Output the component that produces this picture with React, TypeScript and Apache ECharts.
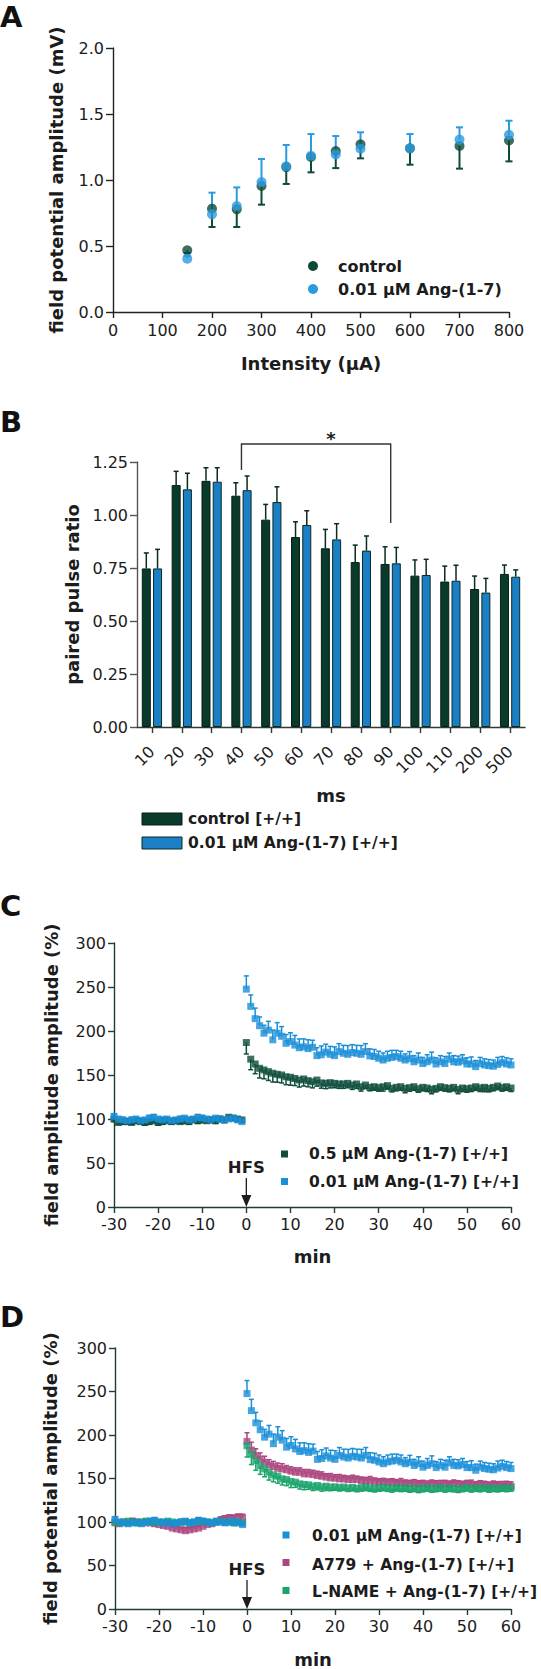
import React, { useEffect, useRef } from 'react';
import * as echarts from 'echarts';

const FONT = '"DejaVu Sans", "Liberation Sans", Arial, sans-serif';
const INK = '#1c1c1c';

// ---------- Panel A ----------
const intensity = [150, 200, 250, 300, 350, 400, 450, 500, 600, 700, 800];
const ampControl = [0.467, 0.783, 0.778, 0.955, 1.098, 1.174, 1.22, 1.27, 1.24, 1.258, 1.3];
const ampControlErr = [0.02, 0.139, 0.134, 0.142, 0.128, 0.116, 0.13, 0.106, 0.124, 0.172, 0.159];
const ampAng = [0.404, 0.74, 0.803, 0.985, 1.104, 1.184, 1.194, 1.237, 1.24, 1.306, 1.343];
const ampAngErr = [0.02, 0.164, 0.141, 0.174, 0.161, 0.164, 0.139, 0.124, 0.108, 0.093, 0.106];

// ---------- Panel B ----------
const intervalsMs = ['10', '20', '30', '40', '50', '60', '70', '80', '90', '100', '110', '200', '500'];
const ppControl = [0.748, 1.141, 1.161, 1.091, 0.978, 0.896, 0.843, 0.778, 0.769, 0.714, 0.686, 0.651, 0.722];
const ppControlErr = [0.073, 0.065, 0.062, 0.061, 0.072, 0.072, 0.089, 0.08, 0.081, 0.074, 0.073, 0.061, 0.042];
const ppAng = [0.748, 1.121, 1.157, 1.117, 1.061, 0.953, 0.885, 0.832, 0.772, 0.717, 0.69, 0.634, 0.709];
const ppAngErr = [0.09, 0.076, 0.066, 0.067, 0.072, 0.067, 0.074, 0.069, 0.075, 0.074, 0.073, 0.067, 0.032];

// ---------- Panels C & D (time, min) ----------
const baselineMin = [-30, -29, -28, -27, -26, -25, -24, -23, -22, -21, -20, -19, -18, -17, -16, -15, -14, -13, -12, -11, -10, -9, -8, -7, -6, -5, -4, -3, -2, -1];
const postMin = [0, 1, 2, 3, 4, 5, 6, 7, 8, 9, 10, 11, 12, 13, 14, 15, 16, 17, 18, 19, 20, 21, 22, 23, 24, 25, 26, 27, 28, 29, 30, 31, 32, 33, 34, 35, 36, 37, 38, 39, 40, 41, 42, 43, 44, 45, 46, 47, 48, 49, 50, 51, 52, 53, 54, 55, 56, 57, 58, 59, 60];

// 0.01 µM Ang-(1-7)
const angLowBase = [103, 100, 99, 98, 99, 100, 98, 99, 101, 102, 100, 99, 100, 98, 99, 100, 101, 99, 100, 102, 101, 100, 99, 101, 100, 99, 100, 101, 99, 97];
const angLowPost = [247.6, 228, 214, 206, 197.5, 201, 190, 197.5, 194, 186, 188, 184, 181, 182, 180, 181.5, 172, 173, 176, 173.5, 172, 176.6, 174.7, 173.5, 175.5, 174.7, 173.5, 176.6, 171.7, 171, 169, 167, 169, 170, 171, 169, 167, 168.6, 165, 167, 163, 165, 167, 162.5, 165, 163, 168, 165, 164.5, 166, 162.5, 162.5, 159.5, 163, 161.4, 160.6, 160, 162, 164, 162.5, 161.4];
const angLowErrBase = [3, 2, 3, 2, 3, 2, 3, 2, 3, 3, 2, 3, 2, 3, 2, 3, 2, 3, 2, 3, 3, 2, 3, 2, 3, 2, 3, 2, 3, 3];
const angLowErrPost = [15, 13, 12, 10, 9, 10, 11, 12, 11, 10, 10, 11, 10, 9, 10, 8, 9, 10, 9, 9, 10, 9, 9, 10, 9, 9, 10, 9, 8, 8, 8, 8, 8, 8, 7, 8, 7, 8, 7, 8, 7, 8, 9, 7, 7, 8, 7, 7, 7, 7, 7, 8, 7, 7, 7, 7, 7, 8, 7, 7, 7];

// 0.5 µM Ang-(1-7)
const angHighBase = [100, 96, 97, 97, 96, 98, 97, 96, 97, 98, 96, 97, 98, 97, 98, 97, 98, 97, 99, 98, 99, 98, 99, 98, 100, 99, 102, 101, 100, 99];
const angHighPost = [186.9, 168, 162.5, 157.6, 155.7, 153.8, 152, 150.8, 150, 148, 147.4, 146, 144.3, 145.5, 143.6, 142.4, 144.3, 141, 140.5, 141.3, 140.5, 139.8, 139.8, 140.5, 138.6, 139.8, 136.7, 138.6, 136, 136.7, 135.6, 136.7, 137.9, 134.8, 136, 136.7, 134.8, 135.6, 136.7, 134.4, 136, 135.2, 133.7, 134.8, 136.7, 135.6, 134.8, 136, 133.7, 135.2, 134.4, 135.2, 136.7, 135.2, 136, 134.8, 136, 137.5, 135.6, 136.7, 135.2];
const angHighErrBase = [3, 2, 3, 3, 2, 3, 2, 3, 3, 2, 3, 3, 2, 3, 3, 2, 3, 3, 2, 3, 3, 2, 3, 3, 2, 3, 3, 2, 3, 3];
const angHighErrPost = [13, 12, 11, 11, 10, 10, 10, 9, 9, 9, 9, 8, 8, 8, 7, 7, 7, 6, 6, 6, 5, 5, 5, 5, 5, 5, 5, 4, 4, 4, 4, 5, 4, 4, 4, 4, 5, 4, 4, 4, 4, 4, 5, 4, 4, 4, 4, 4, 5, 4, 4, 4, 4, 4, 5, 4, 4, 4, 4, 4, 4];

// A779 + Ang-(1-7)
const a779Base = [99, 98, 100, 99, 101, 100, 99, 100, 99, 98, 97, 96, 95, 93, 92, 91, 90, 91, 92, 93, 95, 97, 98, 100, 102, 104, 105, 104, 106, 105];
const a779Post = [192.6, 182.7, 176.2, 172.4, 168.6, 165.6, 163.7, 161.8, 161, 159.9, 158.4, 157.2, 157.2, 155.3, 155.3, 154.5, 153.4, 152.6, 151.5, 150.7, 150.4, 149.6, 149.6, 148.8, 148.8, 148.8, 147.7, 147.3, 147.3, 146.6, 145.8, 146.2, 145.4, 145.8, 144.7, 145, 144.3, 143.9, 144.7, 143.5, 143.9, 143.1, 144.3, 143.5, 142.8, 143.9, 143.1, 144.3, 143.5, 142.8, 143.9, 143.1, 142.4, 143.5, 142.8, 142, 143.1, 142.4, 141.6, 142.8, 141.2];
const a779ErrBase = [3, 3, 2, 3, 3, 2, 3, 3, 2, 3, 3, 3, 3, 4, 3, 3, 4, 3, 3, 3, 3, 3, 3, 3, 4, 3, 3, 4, 3, 4];
const a779ErrPost = [10, 9, 8, 7, 7, 6, 6, 6, 6, 5, 5, 5, 5, 5, 5, 5, 5, 5, 4, 5, 4, 5, 4, 4, 5, 4, 4, 4, 5, 4, 4, 4, 4, 4, 4, 5, 4, 4, 4, 4, 4, 4, 4, 4, 5, 4, 4, 4, 4, 4, 4, 5, 4, 4, 4, 4, 4, 4, 5, 4, 5];

// L-NAME + Ang-(1-7)
const lnameBase = [100, 99, 100, 101, 100, 99, 100, 101, 100, 99, 100, 100, 101, 100, 99, 100, 100, 99, 100, 101, 100, 100, 99, 100, 101, 100, 100, 99, 100, 99];
const lnamePost = [187.7, 178, 170.5, 164.8, 161, 157.2, 154.2, 152.6, 149.6, 148.8, 146.6, 145.8, 143.9, 143.1, 142.7, 141.2, 142, 140.5, 141.2, 140, 140.5, 139.6, 140.2, 139.1, 139.8, 138.7, 139.5, 140.1, 139.2, 138.5, 139.4, 140, 139.1, 138.4, 139.6, 138.9, 139.3, 138.2, 139, 137.8, 138.6, 139.4, 138.1, 138.8, 139.5, 138.3, 139.1, 138.6, 137.9, 138.8, 139.6, 138.4, 139.2, 138.7, 139.5, 138.2, 139, 138.5, 139.3, 138.8, 139.4];
const lnameErrBase = [2, 3, 2, 3, 2, 3, 2, 3, 2, 3, 2, 3, 2, 3, 2, 3, 2, 3, 2, 3, 2, 3, 2, 3, 2, 3, 2, 3, 2, 3];
const lnameErrPost = [13, 12, 11, 10, 9, 9, 8, 8, 7, 7, 7, 6, 6, 6, 5, 5, 5, 5, 5, 4, 4, 4, 4, 4, 4, 4, 4, 4, 4, 4, 4, 4, 4, 4, 4, 4, 4, 4, 4, 4, 4, 4, 4, 4, 4, 4, 4, 4, 4, 4, 4, 4, 4, 4, 4, 4, 4, 4, 4, 4, 4];

// ---------- colours ----------
const A_DARK = '#0d4a3a';
const A_BLUE = '#2a9be0';
const B_DARK = '#0a3a2c';
const B_BLUE = '#1b7fc6';
const C_DARK = '#0f4d3c';
const C_BLUE = '#1a8fd8';
const D_PINK = '#ad4680';
const D_GREEN = '#1aa36a';

const BAR_W = 9;
const BAR_GAP_PCT = 25;
const BAR_OFF = (BAR_W * 2 + (BAR_W * BAR_GAP_PCT) / 100) / 2 - BAR_W / 2;

function triplets(xs: number[], ys: number[], es: number[]) {
  return xs.map((x, i) => [x, ys[i], es[i]]);
}

function errRender(dir: number, color: string, cap: number, lw: number, dx = 0) {
  return (params: any, api: any) => {
    const x = api.value(0);
    const y = api.value(1);
    const e = api.value(2);
    if (!e) return null;
    const p0 = api.coord([x, y]);
    const p1 = api.coord([x, y + dir * e]);
    const px = p0[0] + dx;
    return {
      type: 'group',
      children: [
        { type: 'line', shape: { x1: px, y1: p0[1], x2: px, y2: p1[1] }, style: { stroke: color, lineWidth: lw } },
        { type: 'line', shape: { x1: px - cap, y1: p1[1], x2: px + cap, y2: p1[1] }, style: { stroke: color, lineWidth: lw } },
      ],
    };
  };
}

function hfsRender(params: any, api: any) {
  const p = api.coord([api.value(0), api.value(1)]);
  return {
    type: 'group',
    children: [
      {
        type: 'text',
        style: {
          text: 'HFS', x: p[0], y: p[1] - 40, fill: INK, font: `bold 16.5px ${FONT}`,
          textAlign: 'center', textVerticalAlign: 'middle', align: 'center', verticalAlign: 'middle',
        },
      },
      { type: 'line', shape: { x1: p[0], y1: p[1] - 29, x2: p[0], y2: p[1] - 10 }, style: { stroke: INK, lineWidth: 1.3 } },
      { type: 'polygon', shape: { points: [[p[0] - 5, p[1] - 12], [p[0] + 5, p[1] - 12], [p[0], p[1]]] }, style: { fill: INK } },
    ],
  };
}

function bracketRender(params: any, api: any) {
  const i0 = api.value(0);
  const i1 = api.value(1);
  const top = api.value(2);
  const a = api.coord([i0, top]);
  const b = api.coord([i1, top]);
  const la = api.coord([i0, api.value(3)]);
  const rb = api.coord([i1, api.value(4)]);
  const s = api.coord([(i0 + i1) / 2, api.value(5)]);
  return {
    type: 'group',
    children: [
      { type: 'polyline', shape: { points: [la, a, b, rb] }, style: { stroke: '#333', lineWidth: 1.4, fill: 'none' } },
      {
        type: 'text',
        style: {
          text: '*', x: s[0], y: s[1], fill: INK, font: `bold 18px ${FONT}`,
          textAlign: 'center', textVerticalAlign: 'middle', align: 'center', verticalAlign: 'middle',
        },
      },
    ],
  };
}

const tickLabel = { fontFamily: FONT, fontSize: 16, color: INK };
const nameStyle = { fontFamily: FONT, fontSize: 18, fontWeight: 'bold' as const, color: INK };

function valueAxis(opts: any) {
  return {
    type: 'value',
    splitLine: { show: false },
    axisLine: { show: true, onZero: false, lineStyle: { color: opts.lineColor || '#222', width: 1.4 } },
    axisTick: { show: true, length: opts.tickLen || 6, lineStyle: { color: opts.lineColor || '#222', width: 1.4 } },
    axisLabel: { ...tickLabel, margin: opts.margin || 8, formatter: opts.formatter },
    nameLocation: 'middle',
    nameTextStyle: nameStyle,
    ...opts.extra,
  };
}

function legendText(text: string, x: number, y: number, size = 15.5) {
  return {
    type: 'text', x, y,
    style: {
      text, fill: INK, font: `bold ${size}px ${FONT}`,
      textAlign: 'left', textVerticalAlign: 'middle', align: 'left', verticalAlign: 'middle',
    },
  };
}

function panelLetter(text: string, y: number) {
  return {
    type: 'text', x: 0, y,
    style: {
      text, fill: '#111', font: `bold 29px ${FONT}`,
      textAlign: 'left', textVerticalAlign: 'middle', align: 'left', verticalAlign: 'middle',
    },
  };
}

const allMin = [...baselineMin, ...postMin];
const angLow = [...angLowBase, ...angLowPost];
const angLowErr = [...angLowErrBase, ...angLowErrPost];
const angHigh = [...angHighBase, ...angHighPost];
const angHighErr = [...angHighErrBase, ...angHighErrPost];
const a779 = [...a779Base, ...a779Post];
const a779Err = [...a779ErrBase, ...a779ErrPost];
const lname = [...lnameBase, ...lnamePost];
const lnameErr = [...lnameErrBase, ...lnameErrPost];

function buildOption() {
  const cdLine = '#1e3d33';
  const SQ = 7;
  return {
    animation: false,
    backgroundColor: '#ffffff',
    grid: [
      { left: 113, top: 48, width: 396, height: 264 },
      { left: 137, top: 462, width: 388, height: 265 },
      { left: 114, top: 943, width: 397, height: 264 },
      { left: 115, top: 1348, width: 396, height: 263 },
    ],
    xAxis: [
      valueAxis({
        margin: 10, tickLen: 6,
        extra: { gridIndex: 0, min: 0, max: 800, interval: 100, name: 'Intensity (µA)', nameGap: 42 },
      }),
      {
        type: 'category', gridIndex: 1, data: intervalsMs, boundaryGap: true,
        axisLine: { show: true, lineStyle: { color: '#2e3b36', width: 1.4 } },
        axisTick: { show: true, alignWithLabel: true, length: 6, lineStyle: { color: '#2e3b36', width: 1.4 } },
        axisLabel: { ...tickLabel, rotate: 45, margin: 22, interval: 0 },
        name: 'ms', nameLocation: 'middle', nameGap: 59, nameTextStyle: nameStyle,
      },
      valueAxis({
        margin: 9, tickLen: 6, lineColor: cdLine,
        extra: { gridIndex: 2, min: -30, max: 60, interval: 10, name: 'min', nameGap: 40 },
      }),
      valueAxis({
        margin: 9, tickLen: 6, lineColor: cdLine,
        extra: { gridIndex: 3, min: -30, max: 60, interval: 10, name: 'min', nameGap: 41 },
      }),
    ],
    yAxis: [
      valueAxis({
        margin: 9, tickLen: 7, formatter: (v: number) => v.toFixed(1),
        extra: { gridIndex: 0, min: 0, max: 2, interval: 0.5, name: 'field potential amplitude (mV)', nameGap: 48 },
      }),
      valueAxis({
        margin: 9, tickLen: 7, lineColor: '#555', formatter: (v: number) => v.toFixed(2),
        extra: { gridIndex: 1, min: 0, max: 1.25, interval: 0.25, name: 'paired pulse ratio', nameGap: 54 },
      }),
      valueAxis({
        margin: 8, tickLen: 6, lineColor: cdLine,
        extra: { gridIndex: 2, min: 0, max: 300, interval: 50, name: 'field amplitude amplitude (%)', nameGap: 54 },
      }),
      valueAxis({
        margin: 8, tickLen: 6, lineColor: cdLine,
        extra: { gridIndex: 3, min: 0, max: 300, interval: 50, name: 'field potential amplitude (%)', nameGap: 56 },
      }),
    ],
    series: [
      // ---- A ----
      {
        type: 'custom', name: 'control err', xAxisIndex: 0, yAxisIndex: 0,
        renderItem: errRender(-1, A_DARK, 3.5, 2), data: triplets(intensity, ampControl, ampControlErr),
      },
      {
        type: 'custom', name: 'ang err', xAxisIndex: 0, yAxisIndex: 0,
        renderItem: errRender(1, A_BLUE, 3.5, 2), data: triplets(intensity, ampAng, ampAngErr),
      },
      {
        type: 'scatter', name: 'control', xAxisIndex: 0, yAxisIndex: 0, symbol: 'circle', symbolSize: 10,
        itemStyle: { color: A_DARK }, data: intensity.map((x, i) => [x, ampControl[i]]),
      },
      {
        type: 'scatter', name: '0.01 µM Ang-(1-7)', xAxisIndex: 0, yAxisIndex: 0, symbol: 'circle', symbolSize: 10,
        itemStyle: { color: A_BLUE }, data: intensity.map((x, i) => [x, ampAng[i]]),
      },
      // ---- B ----
      {
        type: 'bar', name: 'control [+/+]', xAxisIndex: 1, yAxisIndex: 1, barWidth: BAR_W, barGap: BAR_GAP_PCT + '%',
        itemStyle: { color: B_DARK, borderColor: '#051f17', borderWidth: 1 }, data: ppControl,
      },
      {
        type: 'bar', name: '0.01 µM Ang-(1-7) [+/+]', xAxisIndex: 1, yAxisIndex: 1, barWidth: BAR_W, barGap: BAR_GAP_PCT + '%',
        itemStyle: { color: B_BLUE, borderColor: '#0a2a22', borderWidth: 1 }, data: ppAng,
      },
      {
        type: 'custom', name: 'pp control err', xAxisIndex: 1, yAxisIndex: 1,
        renderItem: errRender(1, '#0b2a20', 2.5, 1.5, -BAR_OFF),
        data: intervalsMs.map((c, i) => [i, ppControl[i], ppControlErr[i]]),
      },
      {
        type: 'custom', name: 'pp ang err', xAxisIndex: 1, yAxisIndex: 1,
        renderItem: errRender(1, '#0b2a20', 2.5, 1.5, BAR_OFF),
        data: intervalsMs.map((c, i) => [i, ppAng[i], ppAngErr[i]]),
      },
      {
        type: 'custom', name: 'significance', xAxisIndex: 1, yAxisIndex: 1,
        renderItem: bracketRender, data: [[3, 8, 1.335, 1.212, 0.962, 1.36]],
      },
      // ---- C ----
      {
        type: 'custom', name: 'C high err', xAxisIndex: 2, yAxisIndex: 2,
        renderItem: errRender(-1, C_DARK, 2.5, 1.5), data: triplets(allMin, angHigh, angHighErr),
      },
      {
        type: 'scatter', name: '0.5 µM Ang-(1-7) [+/+]', xAxisIndex: 2, yAxisIndex: 2, symbol: 'rect', symbolSize: SQ,
        itemStyle: { color: C_DARK }, data: allMin.map((t, i) => [t, angHigh[i]]),
        markLine: {
          silent: true, symbol: ['none', 'none'], label: { show: false },
          lineStyle: { type: [4, 3], color: cdLine, width: 1.2 },
          data: [[{ coord: [-1, 100] }, { coord: [61, 100] }]],
        },
      },
      {
        type: 'custom', name: 'C low err', xAxisIndex: 2, yAxisIndex: 2,
        renderItem: errRender(1, C_BLUE, 2.5, 1.5), data: triplets(allMin, angLow, angLowErr),
      },
      {
        type: 'scatter', name: '0.01 µM Ang-(1-7) [+/+] C', xAxisIndex: 2, yAxisIndex: 2, symbol: 'rect', symbolSize: SQ,
        itemStyle: { color: C_BLUE }, data: allMin.map((t, i) => [t, angLow[i]]),
      },
      {
        type: 'custom', name: 'HFS C', xAxisIndex: 2, yAxisIndex: 2, renderItem: hfsRender, data: [[0, 0]],
      },
      // ---- D ----
      {
        type: 'custom', name: 'D a779 err', xAxisIndex: 3, yAxisIndex: 3,
        renderItem: errRender(1, D_PINK, 2.5, 1.5), data: triplets(allMin, a779, a779Err),
      },
      {
        type: 'scatter', name: 'A779 + Ang-(1-7) [+/+]', xAxisIndex: 3, yAxisIndex: 3, symbol: 'rect', symbolSize: SQ,
        itemStyle: { color: D_PINK }, data: allMin.map((t, i) => [t, a779[i]]),
        markLine: {
          silent: true, symbol: ['none', 'none'], label: { show: false },
          lineStyle: { type: [4, 3], color: cdLine, width: 1.2 },
          data: [[{ coord: [-1, 100] }, { coord: [61, 100] }]],
        },
      },
      {
        type: 'custom', name: 'D lname err', xAxisIndex: 3, yAxisIndex: 3,
        renderItem: errRender(-1, D_GREEN, 2.5, 1.5), data: triplets(allMin, lname, lnameErr),
      },
      {
        type: 'scatter', name: 'L-NAME + Ang-(1-7) [+/+]', xAxisIndex: 3, yAxisIndex: 3, symbol: 'rect', symbolSize: SQ,
        itemStyle: { color: D_GREEN }, data: allMin.map((t, i) => [t, lname[i]]),
      },
      {
        type: 'custom', name: 'D low err', xAxisIndex: 3, yAxisIndex: 3,
        renderItem: errRender(1, C_BLUE, 2.5, 1.5), data: triplets(allMin, angLow, angLowErr),
      },
      {
        type: 'scatter', name: '0.01 µM Ang-(1-7) [+/+] D', xAxisIndex: 3, yAxisIndex: 3, symbol: 'rect', symbolSize: SQ,
        itemStyle: { color: C_BLUE }, data: allMin.map((t, i) => [t, angLow[i]]),
      },
      {
        type: 'custom', name: 'HFS D', xAxisIndex: 3, yAxisIndex: 3, renderItem: hfsRender, data: [[0, 0]],
      },
    ],
    graphic: [
      panelLetter('A', 17),
      panelLetter('B', 422),
      panelLetter('C', 906),
      panelLetter('D', 1317),
      // legend A
      { type: 'circle', shape: { cx: 313, cy: 266, r: 5 }, style: { fill: A_DARK } },
      legendText('control', 338, 266, 16),
      { type: 'circle', shape: { cx: 313, cy: 289, r: 5 }, style: { fill: A_BLUE } },
      legendText('0.01 µM Ang-(1-7)', 338, 289, 16),
      // legend B
      { type: 'rect', shape: { x: 142, y: 813, width: 40, height: 12 }, style: { fill: B_DARK, stroke: '#051f17', lineWidth: 1 } },
      legendText('control [+/+]', 188, 819),
      { type: 'rect', shape: { x: 142, y: 837, width: 40, height: 12 }, style: { fill: B_BLUE, stroke: '#0a2a22', lineWidth: 1 } },
      legendText('0.01 µM Ang-(1-7) [+/+]', 188, 843),
      // legend C
      { type: 'rect', shape: { x: 281, y: 1150.5, width: 7, height: 7 }, style: { fill: C_DARK } },
      legendText('0.5 µM Ang-(1-7) [+/+]', 309, 1154),
      { type: 'rect', shape: { x: 281, y: 1178, width: 7, height: 7 }, style: { fill: C_BLUE } },
      legendText('0.01 µM Ang-(1-7) [+/+]', 309, 1182),
      // legend D
      { type: 'rect', shape: { x: 282.5, y: 1531.5, width: 7, height: 7 }, style: { fill: C_BLUE } },
      legendText('0.01 µM Ang-(1-7) [+/+]', 312, 1536),
      { type: 'rect', shape: { x: 282.5, y: 1559, width: 7, height: 7 }, style: { fill: D_PINK } },
      legendText('A779 + Ang-(1-7) [+/+]', 312, 1565),
      { type: 'rect', shape: { x: 282.5, y: 1587, width: 7, height: 7 }, style: { fill: D_GREEN } },
      legendText('L-NAME + Ang-(1-7) [+/+]', 312, 1592),
    ],
  };
}

export default function App() {
  const ref = useRef<HTMLDivElement>(null);
  useEffect(() => {
    if (!ref.current) return;
    const chart = echarts.init(ref.current, null, { renderer: 'svg' });
    chart.setOption(buildOption() as any);
    return () => chart.dispose();
  }, []);
  return (
    <div
      ref={ref}
      style={{ position: 'absolute', left: 0, top: 0, width: 541, height: 1669, background: '#ffffff' }}
    />
  );
}
